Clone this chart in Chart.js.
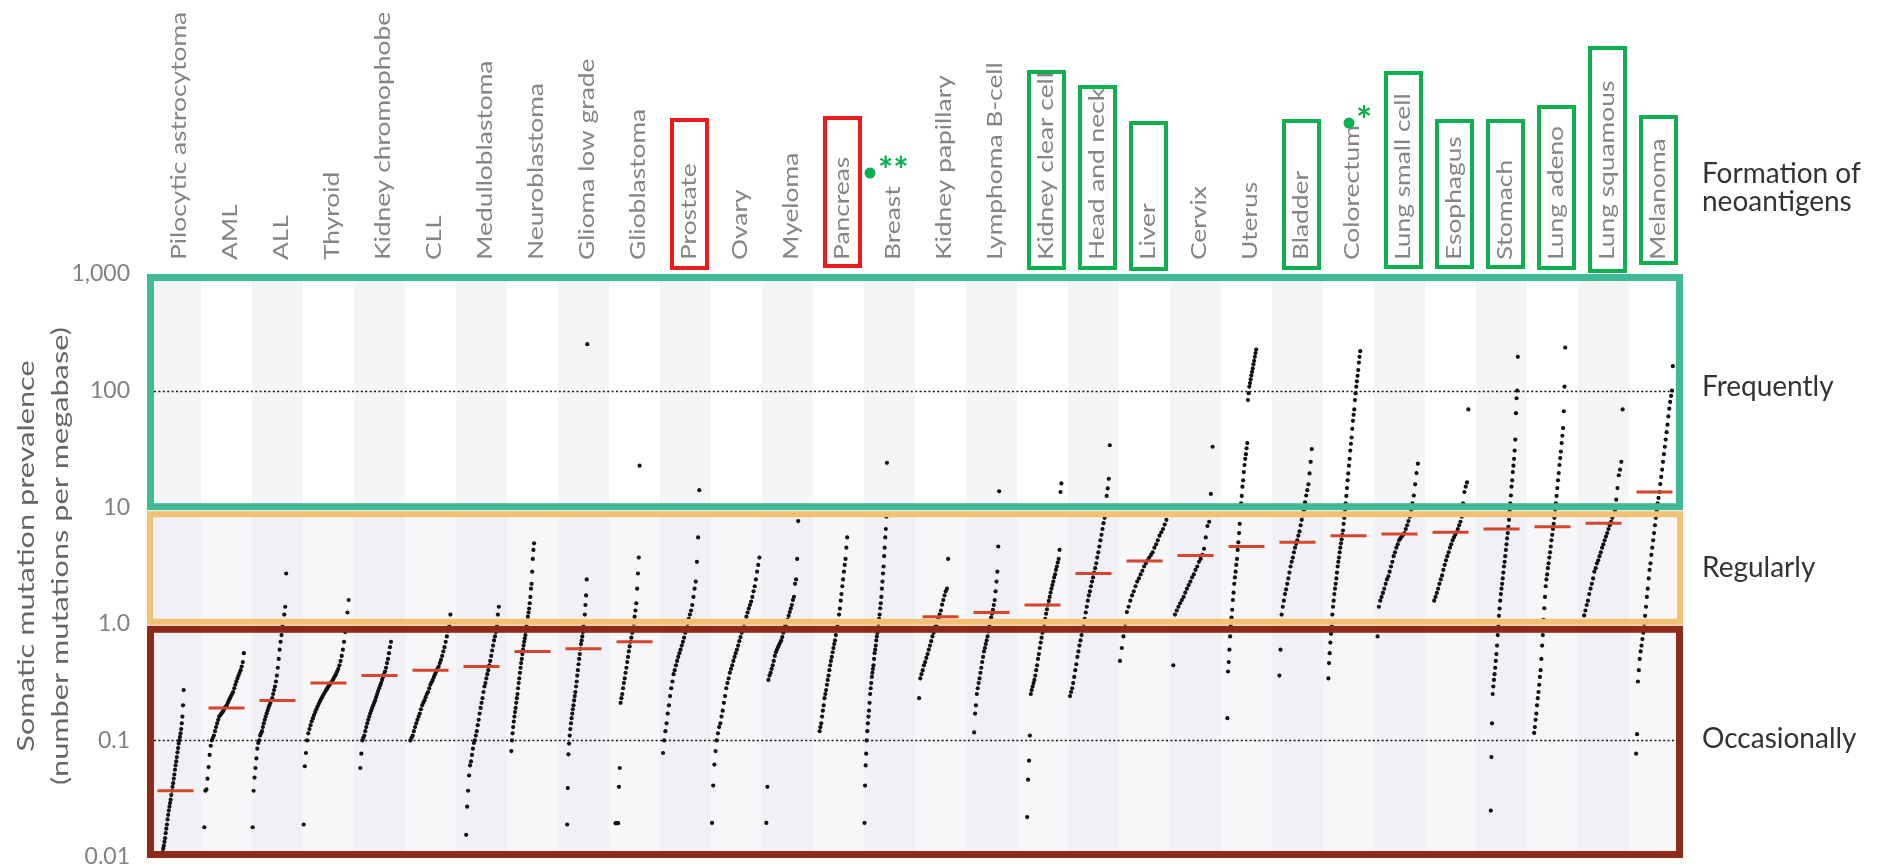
<!DOCTYPE html>
<html>
<head>
<meta charset="utf-8">
<script src="https://cdn.jsdelivr.net/npm/chart.js@4.4.1/dist/chart.umd.min.js"></script>
<style>
  html, body { margin: 0; padding: 0; background: #ffffff; }
  #wrap { position: relative; width: 1891px; height: 866px; }
</style>
</head>
<body>
<div id="wrap"><canvas id="chart" width="1891" height="866"></canvas></div>
<script>
// Cancer types, ordered by median somatic mutation prevalence
const cancerTypes = [
  "Pilocytic astrocytoma", "AML", "ALL", "Thyroid", "Kidney chromophobe", "CLL",
  "Medulloblastoma", "Neuroblastoma", "Glioma low grade", "Glioblastoma", "Prostate",
  "Ovary", "Myeloma", "Pancreas", "Breast", "Kidney papillary", "Lymphoma B-cell",
  "Kidney clear cell", "Head and neck", "Liver", "Cervix", "Uterus", "Bladder",
  "Colorectum", "Lung small cell", "Esophagus", "Stomach", "Lung adeno",
  "Lung squamous", "Melanoma"
];

// Median mutations per megabase for each type
const medians = [
  0.037, 0.19, 0.22, 0.31, 0.36, 0.40, 0.43, 0.58, 0.61, 0.70, 0.90, 0.90, 1.05, 1.05,
  1.05, 1.15, 1.25, 1.45, 2.7, 3.45, 3.85, 4.6, 5.0, 5.7, 5.9, 6.1, 6.5, 6.8, 7.3, 13.5
];

// Per-sample mutations per megabase (ascending)
const pilocyticAstrocytoma = [0.0105, 0.011, 0.0118, 0.0125, 0.0135, 0.0145, 0.016, 0.0175, 0.019, 0.021, 0.023, 0.025, 0.027, 0.029, 0.031, 0.034, 0.037, 0.040, 0.043, 0.047, 0.051, 0.056, 0.061, 0.066, 0.072, 0.079, 0.086, 0.094, 0.10, 0.107, 0.115, 0.125, 0.14, 0.16, 0.2, 0.27];
const aml = [0.018, 0.037, 0.038, 0.047, 0.059, 0.075, 0.09, 0.1, 0.105, 0.11, 0.12, 0.13, 0.14, 0.15, 0.16, 0.165, 0.17, 0.175, 0.18, 0.19, 0.195, 0.2, 0.21, 0.22, 0.23, 0.24, 0.25, 0.26, 0.28, 0.3, 0.32, 0.34, 0.36, 0.38, 0.4, 0.43, 0.47, 0.56];
const all = [0.018, 0.037, 0.048, 0.058, 0.07, 0.085, 0.095, 0.1, 0.11, 0.115, 0.12, 0.13, 0.14, 0.15, 0.16, 0.17, 0.18, 0.19, 0.2, 0.21, 0.22, 0.23, 0.25, 0.27, 0.29, 0.32, 0.36, 0.42, 0.5, 0.6, 0.7, 0.8, 0.95, 1.05, 1.2, 1.4, 2.7];
const thyroid = [0.019, 0.06, 0.078, 0.1, 0.115, 0.125, 0.135, 0.146, 0.155, 0.165, 0.175, 0.185, 0.195, 0.205, 0.215, 0.225, 0.235, 0.245, 0.255, 0.265, 0.275, 0.285, 0.295, 0.305, 0.315, 0.325, 0.34, 0.355, 0.37, 0.39, 0.41, 0.44, 0.48, 0.53, 0.6, 0.7, 0.85, 1.05, 1.25, 1.6];
const kidneyChromophobe = [0.058, 0.077, 0.1, 0.105, 0.11, 0.12, 0.13, 0.14, 0.15, 0.16, 0.17, 0.18, 0.19, 0.2, 0.21, 0.22, 0.235, 0.25, 0.265, 0.28, 0.295, 0.31, 0.33, 0.35, 0.37, 0.39, 0.42, 0.46, 0.5, 0.56, 0.63, 0.7];
const cll = [0.1, 0.105, 0.11, 0.12, 0.13, 0.14, 0.15, 0.16, 0.17, 0.185, 0.2, 0.21, 0.22, 0.235, 0.25, 0.26, 0.28, 0.3, 0.315, 0.33, 0.35, 0.37, 0.39, 0.41, 0.43, 0.46, 0.49, 0.53, 0.58, 0.63, 0.7, 0.78, 0.87, 0.95, 1.2];
const medulloblastoma = [0.0155, 0.027, 0.037, 0.05, 0.061, 0.066, 0.075, 0.085, 0.095, 0.1, 0.11, 0.12, 0.135, 0.15, 0.17, 0.19, 0.21, 0.23, 0.26, 0.29, 0.31, 0.34, 0.37, 0.4, 0.44, 0.48, 0.53, 0.59, 0.65, 0.72, 0.78, 0.85, 0.95, 1.2, 1.4];
const neuroblastoma = [0.081, 0.1, 0.115, 0.13, 0.145, 0.16, 0.175, 0.19, 0.21, 0.23, 0.25, 0.28, 0.31, 0.34, 0.38, 0.42, 0.46, 0.5, 0.55, 0.6, 0.65, 0.7, 0.75, 0.8, 0.87, 0.95, 1.05, 1.15, 1.25, 1.35, 1.5, 1.7, 2.0, 2.2, 2.8, 3.6, 4.3, 4.9];
const gliomaLowGrade = [0.019, 0.039, 0.076, 0.094, 0.11, 0.125, 0.14, 0.155, 0.17, 0.185, 0.2, 0.22, 0.24, 0.26, 0.29, 0.32, 0.36, 0.4, 0.45, 0.5, 0.55, 0.61, 0.67, 0.72, 0.78, 0.85, 0.95, 1.05, 1.2, 1.45, 1.75, 2.4, 250];
const glioblastoma = [0.0195, 0.0195, 0.0195, 0.0195, 0.04, 0.058, 0.21, 0.23, 0.25, 0.28, 0.31, 0.34, 0.38, 0.42, 0.47, 0.52, 0.58, 0.64, 0.7, 0.76, 0.84, 0.92, 1.0, 1.15, 1.3, 1.5, 2.0, 2.7, 3.7, 22.7];
const prostate = [0.078, 0.1, 0.12, 0.14, 0.17, 0.2, 0.24, 0.28, 0.32, 0.37, 0.4, 0.44, 0.48, 0.52, 0.56, 0.6, 0.65, 0.7, 0.76, 0.84, 0.92, 1.0, 1.1, 1.2, 1.3, 1.45, 1.7, 2.0, 2.3, 3.4, 5.5, 14];
const ovary = [0.0196, 0.041, 0.062, 0.081, 0.1, 0.115, 0.13, 0.14, 0.16, 0.18, 0.21, 0.24, 0.28, 0.31, 0.34, 0.38, 0.41, 0.44, 0.48, 0.52, 0.56, 0.6, 0.65, 0.71, 0.77, 0.84, 0.92, 1.0, 1.05, 1.15, 1.25, 1.35, 1.45, 1.55, 1.7, 1.9, 2.1, 2.4, 2.8, 3.2, 3.7];
const myeloma = [0.0196, 0.04, 0.33, 0.36, 0.38, 0.41, 0.44, 0.48, 0.53, 0.57, 0.6, 0.63, 0.66, 0.69, 0.72, 0.77, 0.84, 0.9, 0.97, 1.03, 1.08, 1.17, 1.26, 1.35, 1.45, 1.6, 1.7, 2.2, 2.4, 3.6, 7.6];
const pancreas = [0.12, 0.13, 0.14, 0.16, 0.18, 0.2, 0.23, 0.25, 0.27, 0.3, 0.33, 0.36, 0.4, 0.44, 0.48, 0.52, 0.57, 0.62, 0.67, 0.72, 0.8, 0.88, 0.95, 1.05, 1.2, 1.35, 1.58, 1.8, 2.1, 2.4, 2.8, 3.2, 3.6, 4.5, 5.5];
const breast = [0.0196, 0.041, 0.061, 0.077, 0.1, 0.12, 0.14, 0.16, 0.18, 0.21, 0.25, 0.28, 0.31, 0.35, 0.38, 0.41, 0.44, 0.5, 0.56, 0.6, 0.65, 0.72, 0.78, 0.84, 0.9, 1.0, 1.1, 1.2, 1.36, 1.5, 1.7, 2.0, 2.3, 2.7, 3.1, 3.8, 4.5, 5.5, 6.5, 8.3, 24];
const kidneyPapillary = [0.23, 0.34, 0.37, 0.4, 0.44, 0.47, 0.51, 0.55, 0.6, 0.65, 0.71, 0.78, 0.84, 0.9, 0.97, 1.05, 1.12, 1.2, 1.3, 1.46, 1.6, 1.75, 1.9, 2.0, 3.6];
const lymphomaBCell = [0.117, 0.17, 0.2, 0.25, 0.28, 0.31, 0.34, 0.38, 0.42, 0.47, 0.52, 0.58, 0.62, 0.67, 0.72, 0.78, 0.86, 0.95, 1.03, 1.13, 1.22, 1.32, 1.45, 1.6, 1.9, 2.3, 2.8, 4.6, 13.7];
const kidneyClearCell = [0.022, 0.046, 0.067, 0.11, 0.25, 0.27, 0.29, 0.31, 0.33, 0.36, 0.4, 0.44, 0.5, 0.55, 0.62, 0.69, 0.76, 0.84, 0.92, 1.0, 1.1, 1.22, 1.33, 1.45, 1.57, 1.7, 1.85, 2.0, 2.15, 2.3, 2.5, 2.65, 2.9, 3.1, 3.35, 3.6, 4.3, 13.5, 16];
const headAndNeck = [0.24, 0.26, 0.28, 0.31, 0.35, 0.4, 0.45, 0.52, 0.58, 0.65, 0.72, 0.8, 0.9, 1.0, 1.1, 1.25, 1.4, 1.58, 1.75, 1.9, 2.1, 2.3, 2.5, 2.75, 3.0, 3.3, 3.7, 4.1, 4.6, 5.2, 5.8, 6.5, 7.3, 8.1, 10, 12.5, 14.5, 17.5, 34];
const liver = [0.48, 0.62, 0.78, 1.0, 1.26, 1.4, 1.58, 1.75, 1.9, 2.1, 2.3, 2.45, 2.65, 2.85, 3.1, 3.3, 3.5, 3.7, 3.9, 4.1, 4.5, 4.8, 5.2, 5.7, 6.1, 6.5, 7.1, 7.8];
const cervix = [0.44, 1.2, 1.3, 1.4, 1.5, 1.6, 1.7, 1.85, 2.0, 2.15, 2.3, 2.5, 2.65, 2.9, 3.1, 3.4, 3.6, 3.9, 4.4, 5.5, 6.9, 7.5, 13, 33];
const uterus = [0.155, 0.39, 0.47, 0.6, 0.78, 0.95, 1.13, 1.32, 1.6, 1.85, 2.2, 2.5, 2.8, 3.2, 3.6, 4.3, 5.0, 6.0, 7.2, 8.7, 10.8, 12.5, 15, 17, 20, 23, 26, 28.5, 32, 35.5, 83, 95, 108, 116, 125, 135, 145, 155, 168, 180, 195, 210, 225];
const bladder = [0.36, 0.6, 1.2, 1.4, 1.58, 1.8, 1.97, 2.2, 2.45, 2.75, 3.1, 3.4, 3.7, 4.1, 4.5, 4.85, 5.2, 5.7, 6.2, 7.0, 7.8, 8.5, 9.3, 11, 12.6, 14, 15.7, 19.5, 24.5, 31.5];
const colorectum = [0.34, 0.46, 0.56, 0.69, 0.82, 0.95, 1.2, 1.4, 1.58, 1.8, 2.0, 2.2, 2.45, 2.75, 3.1, 3.4, 3.7, 4.1, 4.5, 4.9, 5.3, 5.8, 6.3, 7.2, 8.1, 9.5, 10.8, 12.5, 14.6, 17, 19.5, 22.7, 26, 30.6, 35, 39.6, 47, 55, 62, 69, 83, 95, 108, 120, 134, 150, 174, 195, 218];
const lungSmallCell = [0.78, 1.4, 1.58, 1.7, 1.84, 2.0, 2.2, 2.4, 2.55, 2.8, 3.1, 3.4, 3.8, 4.1, 4.5, 4.8, 5.2, 5.4, 5.6, 5.8, 6.0, 6.5, 7.0, 7.6, 8.3, 9.5, 10.8, 12.6, 15.7, 19.6, 23.6];
const esophagus = [1.58, 1.7, 1.84, 2.0, 2.2, 2.4, 2.6, 2.9, 3.2, 3.5, 3.8, 4.1, 4.5, 4.8, 5.2, 5.5, 5.8, 6.1, 6.5, 7.0, 7.5, 8.3, 10.8, 13.5, 15, 16.3, 69];
const stomach = [0.025, 0.072, 0.14, 0.25, 0.29, 0.33, 0.37, 0.42, 0.48, 0.55, 0.65, 0.8, 0.95, 1.17, 1.35, 1.58, 1.8, 2.0, 2.2, 2.45, 2.75, 3.1, 3.4, 3.8, 4.3, 4.8, 5.4, 6.0, 6.8, 7.8, 9.2, 10.8, 12.6, 15, 17, 20, 22.7, 26, 30.6, 38, 64, 86, 100, 195];
const lungAdeno = [0.116, 0.13, 0.15, 0.17, 0.2, 0.23, 0.26, 0.3, 0.35, 0.4, 0.5, 0.65, 0.8, 1.08, 1.36, 1.7, 2.1, 2.4, 2.65, 3.0, 3.3, 3.7, 4.1, 4.6, 5.2, 5.8, 6.5, 7.2, 8.1, 9.5, 10.8, 12.5, 14.6, 17, 19.6, 23, 26.4, 30, 35.5, 41, 47.7, 66.5, 108, 234];
const lungSquamous = [1.18, 1.3, 1.45, 1.58, 1.8, 2.0, 2.2, 2.45, 2.8, 3.0, 3.3, 3.5, 3.8, 4.1, 4.5, 4.8, 5.2, 5.6, 6.0, 6.5, 7.0, 7.5, 8.1, 8.7, 9.3, 11.6, 14.6, 18.8, 21, 24.5, 69];
const melanoma = [0.077, 0.113, 0.32, 0.4, 0.5, 0.58, 0.65, 0.74, 0.84, 1.0, 1.17, 1.4, 1.7, 2.0, 2.45, 2.9, 3.3, 3.9, 4.5, 5.2, 6.0, 7.0, 8.1, 9.3, 10.8, 12, 13.5, 15.8, 18.2, 21, 24.5, 28.5, 33, 38, 44, 51, 60, 70, 80, 90, 100, 162];

const sampleSets = [
  pilocyticAstrocytoma, aml, all, thyroid, kidneyChromophobe, cll, medulloblastoma,
  neuroblastoma, gliomaLowGrade, glioblastoma, prostate, ovary, myeloma, pancreas,
  breast, kidneyPapillary, lymphomaBCell, kidneyClearCell, headAndNeck, liver, cervix,
  uterus, bladder, colorectum, lungSmallCell, esophagus, stomach, lungAdeno,
  lungSquamous, melanoma
];

// Y axis ticks
const yTickValues = [0.01, 0.1, 1, 10, 100, 1000];
const yTickLabels = ["0.01", "0.1", "1.0", "10", "100", "1,000"];

// Horizontal spread of the sorted samples inside each column (fraction of column width)
const spreadStart = [0.235, 0.065, 0.013, 0.013, 0.124, 0.105, 0.2, 0.085, 0.18, 0.13, 0.06, 0.02, 0.085, 0.13, 0.01, 0.08, 0.16, 0.2, 0.04, 0.02, 0.065, 0.125, 0.145, 0.105, 0.07, 0.18, 0.29, 0.14, 0.12, 0.14];
const spreadEnd   = [0.66, 0.84, 0.67, 0.895, 0.725, 0.89, 0.84, 0.53, 0.575, 0.6, 0.77, 0.95, 0.71, 0.67, 0.45, 0.65, 0.65, 0.87, 0.82, 0.93, 0.835, 0.69, 0.78, 0.73, 0.86, 0.85, 0.82, 0.75, 0.875, 0.86];

// Label frames (column index, colour, top and bottom in px)
const labelFrames = [
  { col: 10, color: "#ee1b1b", top: 120, bottom: 268 },
  { col: 13, color: "#ee1b1b", top: 118, bottom: 266 },
  { col: 17, color: "#0cb04c", top: 72, bottom: 268 },
  { col: 18, color: "#0cb04c", top: 87, bottom: 268 },
  { col: 19, color: "#0cb04c", top: 123, bottom: 269 },
  { col: 22, color: "#0cb04c", top: 121, bottom: 268 },
  { col: 24, color: "#0cb04c", top: 73, bottom: 267 },
  { col: 25, color: "#0cb04c", top: 121, bottom: 267 },
  { col: 26, color: "#0cb04c", top: 121, bottom: 267 },
  { col: 27, color: "#0cb04c", top: 107, bottom: 268 },
  { col: 28, color: "#0cb04c", top: 48, bottom: 271 },
  { col: 29, color: "#0cb04c", top: 117, bottom: 263 }
];

// Build the scatter points: one column per type, samples placed by rank
const samplePoints = [];
sampleSets.forEach((vals, i) => {
  const sorted = vals.slice().sort((a, b) => a - b);
  const n = sorted.length;
  sorted.forEach((v, k) => {
    const f = spreadStart[i] + (spreadEnd[i] - spreadStart[i]) * (n > 1 ? k / (n - 1) : 0.5);
    samplePoints.push({ x: i + f, y: v });
  });
});
const medianPoints = medians.map((m, i) => ({ x: i + 0.5, y: m }));

function stretchedText(ctx, text, x, y, angle, stretch, font, color, align, baseline) {
  ctx.save();
  ctx.translate(x, y);
  ctx.rotate(angle);
  ctx.scale(stretch, 1);
  ctx.font = font;
  ctx.fillStyle = color;
  ctx.textAlign = align;
  ctx.textBaseline = baseline || "middle";
  ctx.fillText(text, 0, 0);
  ctx.restore();
}

function bandRects(chart) {
  const a = chart.chartArea, y = chart.scales.y;
  const L = a.left - 3, R = a.right + 3;
  const y10 = y.getPixelForValue(10), y1 = y.getPixelForValue(1);
  return [
    { L, R, top: a.top, bottom: y10 + 3, stroke: "#3fba95", lw: 7, fill: "#ffffff", stripe: "#f5f5f7" },
    { L, R, top: y10 + 4, bottom: y1 + 1, stroke: "#f1c176", lw: 6, fill: "#f7f7fa", stripe: "#f1f1f5" },
    { L, R, top: y1 + 2, bottom: a.bottom + 1, stroke: "#8e2a19", lw: 7, fill: "#f7f7fa", stripe: "#f1f1f5" }
  ];
}

const decorPlugin = {
  id: "decor",
  beforeDatasetsDraw(chart) {
    const { ctx, scales: { x, y } } = chart;
    const bands = bandRects(chart);
    ctx.save();
    bands.forEach(b => {
      ctx.fillStyle = b.fill;
      ctx.fillRect(b.L, b.top, b.R - b.L, b.bottom - b.top);
      for (let i = 0; i < cancerTypes.length; i += 2) {
        const x0 = x.getPixelForValue(i), x1 = x.getPixelForValue(i + 1);
        ctx.fillStyle = b.stripe;
        ctx.fillRect(x0, b.top, x1 - x0, b.bottom - b.top);
      }
    });
    // dotted reference lines
    ctx.strokeStyle = "#151515";
    ctx.lineWidth = 1.6;
    ctx.setLineDash([2, 2.4]);
    [100, 0.1].forEach(v => {
      const py = Math.round(y.getPixelForValue(v)) + 0.5;
      ctx.beginPath();
      ctx.moveTo(bands[0].L + 7, py);
      ctx.lineTo(bands[0].R - 7, py);
      ctx.stroke();
    });
    ctx.restore();
  },
  afterDatasetsDraw(chart) {
    const { ctx, scales: { x, y } } = chart;
    const bands = bandRects(chart);
    ctx.save();
    // band frames
    bands.forEach(b => {
      ctx.strokeStyle = b.stroke;
      ctx.lineWidth = b.lw;
      ctx.strokeRect(b.L + b.lw / 2, b.top + b.lw / 2, b.R - b.L - b.lw, b.bottom - b.top - b.lw);
    });

    // category labels
    const colCenter = i => x.getPixelForValue(i + 0.5);
    cancerTypes.forEach((name, i) => {
      stretchedText(ctx, name, colCenter(i) + 4, 260, -Math.PI / 2, 1.255, "21px Lato", "#858585", "left", "middle");
    });

    // frames around selected labels
    labelFrames.forEach(f => {
      const cx = colCenter(f.col) + 4;
      ctx.strokeStyle = f.color;
      ctx.lineWidth = 4;
      ctx.strokeRect(cx - 17.5, f.top, 35, f.bottom - f.top);
    });

    // marker dots with asterisks
    ctx.fillStyle = "#0cb04c";
    const bx = colCenter(14) - 19.5;
    ctx.beginPath(); ctx.arc(bx, 173, 5.5, 0, Math.PI * 2); ctx.fill();
    ctx.font = "bold 36px Lato";
    ctx.textAlign = "left"; ctx.textBaseline = "alphabetic";
    ctx.fillText("**", bx + 8, 183);
    const cxr = colCenter(23) + 0.5;
    ctx.beginPath(); ctx.arc(cxr, 123, 5.5, 0, Math.PI * 2); ctx.fill();
    ctx.font = "bold 38px Lato";
    ctx.fillText("*", cxr + 7, 134);

    // right-hand annotations
    const rx = chart.chartArea.right + 22;
    ctx.fillStyle = "#333333";
    ctx.font = "28px Lato";
    ctx.textAlign = "left";
    ctx.textBaseline = "alphabetic";
    ctx.fillText("Formation of", rx, 183);
    ctx.fillText("neoantigens", rx, 211);
    ctx.textBaseline = "middle";
    const bandMid = b => (b.top + b.bottom) / 2;
    ctx.fillText("Frequently", rx, bandMid(bands[0]) - 5);
    ctx.fillText("Regularly", rx, bandMid(bands[1]));
    ctx.fillText("Occasionally", rx, y.getPixelForValue(0.1) - 1);

    // y axis title
    const midY = 556;
    stretchedText(ctx, "Somatic mutation prevalence", 26, midY, -Math.PI / 2, 1.28, "24px Lato", "#666666", "center", "middle");
    stretchedText(ctx, "(number mutations per megabase)", 60, midY, -Math.PI / 2, 1.28, "24px Lato", "#666666", "center", "middle");
    ctx.restore();
  }
};

Chart.defaults.font.family = "Lato";

new Chart(document.getElementById("chart"), {
  type: "scatter",
  data: {
    datasets: [
      {
        label: "Median",
        data: medianPoints,
        pointStyle: "line",
        pointRadius: 18,
        pointBorderWidth: 3,
        pointBorderColor: "#d6452b",
        pointBackgroundColor: "#d6452b"
      },
      {
        label: "Samples",
        data: samplePoints,
        pointStyle: "circle",
        pointRadius: 2.1,
        pointBorderWidth: 0,
        pointBackgroundColor: "#111111"
      }
    ]
  },
  options: {
    responsive: false,
    animation: false,
    devicePixelRatio: 1,
    events: [],
    layout: { autoPadding: false, padding: { left: 0, right: 211, top: 274, bottom: 9 } },
    plugins: { legend: { display: false }, tooltip: { enabled: false } },
    scales: {
      x: { type: "linear", min: 0, max: cancerTypes.length, display: false },
      y: {
        type: "logarithmic",
        min: 0.01,
        max: 1000,
        afterBuildTicks: s => { s.ticks = yTickValues.map(v => ({ value: v })); },
        afterFit: s => { s.width = 150; },
        grid: { display: false, drawTicks: true, tickLength: 20 },
        border: { display: false },
        ticks: {
          autoSkip: false,
          padding: 0,
          color: "#808080",
          font: { family: "Lato", size: 23, lineHeight: 0.75 },
          callback: v => yTickLabels[yTickValues.indexOf(v)]
        }
      }
    }
  },
  plugins: [decorPlugin]
});
</script>
</body>
</html>
